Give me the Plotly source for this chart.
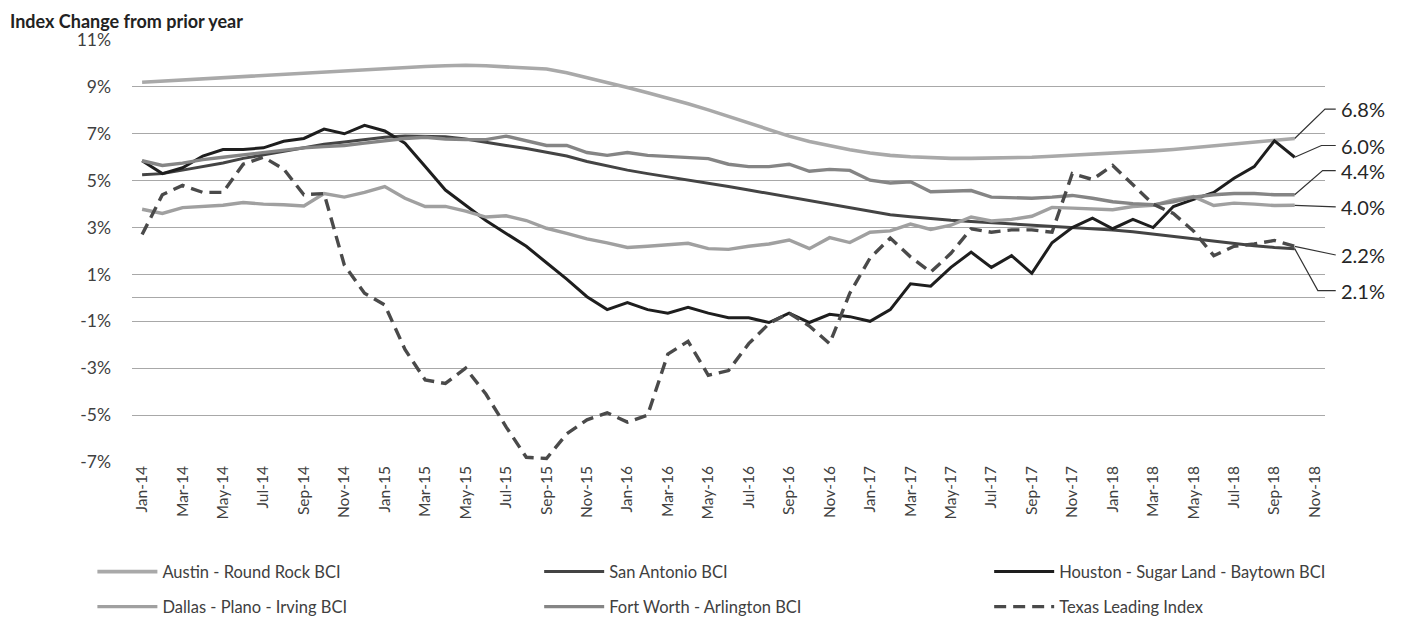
import plotly.graph_objects as go

# ---------------- data ----------------
mon_abbr = ["Jan", "Feb", "Mar", "Apr", "May", "Jun", "Jul", "Aug", "Sep", "Oct", "Nov", "Dec"]
months = [f"{m}-{y}" for y in ["14", "15", "16", "17", "18"] for m in mon_abbr][:59]  # Jan-14 .. Nov-18

austin = [9.2, 9.25, 9.3, 9.35, 9.4, 9.43, 9.47, 9.52, 9.57, 9.62,
          9.68, 9.73, 9.78, 9.83, 9.87, 9.9, 9.92, 9.9, 9.86, 9.82,
          9.76, 9.6, 9.4, 9.18, 8.97, 8.75, 8.52, 8.28, 8.02, 7.73,
          7.44, 7.17, 6.9, 6.67, 6.48, 6.32, 6.18, 6.08, 6.02, 5.98,
          5.95, 5.95, 5.96, 5.97, 6.0, 6.04, 6.08, 6.12, 6.17, 6.22,
          6.27, 6.33, 6.41, 6.48, 6.56, 6.65, 6.72, 6.8]

san_antonio = [5.25, 5.3, 5.45, 5.6, 5.75, 5.95, 6.1, 6.25, 6.4, 6.55,
               6.65, 6.75, 6.85, 6.9, 6.9, 6.87, 6.78, 6.63, 6.5, 6.37,
               6.22, 6.05, 5.82, 5.62, 5.45, 5.3, 5.17, 5.03, 4.9, 4.75,
               4.6, 4.45, 4.3, 4.14, 3.97, 3.82, 3.67, 3.55, 3.46, 3.37,
               3.31, 3.26, 3.21, 3.15, 3.1, 3.05, 3.0, 2.95, 2.9, 2.82,
               2.72, 2.6, 2.5, 2.4, 2.3, 2.22, 2.15, 2.1]

houston = [5.85, 5.3, 5.55, 6.05, 6.33, 6.33, 6.4, 6.68, 6.8, 7.2, 7.0, 7.36,
           7.12, 6.6, 5.6, 4.6, 3.95, 3.3, 2.75, 2.2, 1.5, 0.8, 0.05, -0.5,
           -0.2, -0.5, -0.65, -0.4, -0.65, -0.85, -0.85, -1.05, -0.65, -1.05, -0.7, -0.8,
           -1.0, -0.5, 0.6, 0.5, 1.3, 1.95, 1.3, 1.8, 1.05, 2.35, 3.0, 3.4,
           2.95, 3.35, 3.0, 3.9, 4.2, 4.5, 5.1, 5.6, 6.7, 6.0]

dallas = [3.78, 3.6, 3.85, 3.9, 3.95, 4.07, 4.0, 3.97, 3.92, 4.45,
          4.3, 4.5, 4.75, 4.25, 3.9, 3.9, 3.7, 3.45, 3.5, 3.3,
          2.97, 2.75, 2.52, 2.35, 2.15, 2.2, 2.25, 2.33, 2.1, 2.07,
          2.2, 2.3, 2.47, 2.1, 2.57, 2.36, 2.8, 2.86, 3.15, 2.92,
          3.1, 3.45, 3.28, 3.35, 3.48, 3.86, 3.83, 3.8, 3.76, 3.9,
          3.95, 4.18, 4.32, 3.94, 4.04, 4.0, 3.94, 3.95]

fort_worth = [5.85, 5.65, 5.75, 5.9, 6.0, 6.1, 6.2, 6.3, 6.4, 6.45,
              6.5, 6.6, 6.7, 6.8, 6.85, 6.78, 6.75, 6.75, 6.9, 6.7,
              6.5, 6.5, 6.2, 6.08, 6.2, 6.08, 6.03, 6.0, 5.94, 5.7,
              5.6, 5.6, 5.7, 5.4, 5.48, 5.44, 5.02, 4.9, 4.95, 4.53,
              4.55, 4.58, 4.3, 4.27, 4.25, 4.3, 4.37, 4.25, 4.1, 4.02,
              3.97, 4.1, 4.3, 4.4, 4.45, 4.45, 4.4, 4.4]

texas_leading = [2.7, 4.4, 4.8, 4.5, 4.5, 5.7, 6.0, 5.5, 4.4, 4.45, 1.4, 0.2,
                 -0.3, -2.2, -3.5, -3.65, -3.0, -4.1, -5.5, -6.8, -6.85, -5.8, -5.2, -4.9,
                 -5.3, -5.0, -2.4, -1.85, -3.3, -3.1, -1.95, -1.1, -0.65, -1.2, -1.95, 0.2,
                 1.7, 2.55, 1.75, 1.1, 1.9, 2.95, 2.8, 2.9, 2.9, 2.8, 5.3, 5.05,
                 5.65, 4.8, 4.0, 3.6, 2.85, 1.8, 2.2, 2.3, 2.45, 2.2]

y_ticks = [-7, -5, -3, -1, 1, 3, 5, 7, 9, 11]
end_labels = ["6.8%", "6.0%", "4.4%", "4.0%", "2.2%", "2.1%"]

# ---------------- styling ----------------
FONT = "Lato"
TXT = "#404040"
GRID = "#a8a8a8"
Y_MIN, Y_MAX = -7, 11

# name, values, colour, width, dash, legend id, legend x, legend y
series = [
    ("Austin - Round Rock BCI", austin, "#a9a9a9", 3.6, "solid", "legend", -0.0332, -0.2604),
    ("San Antonio BCI", san_antonio, "#444444", 3.0, "solid", "legend2", 0.3413, -0.2604),
    ("Houston - Sugar Land - Baytown BCI", houston, "#1e1e1e", 3.0, "solid", "legend3", 0.7185, -0.2604),
    ("Dallas - Plano - Irving BCI", dallas, "#a0a0a0", 3.4, "solid", "legend4", -0.0332, -0.3434),
    ("Fort Worth - Arlington BCI", fort_worth, "#858585", 3.4, "solid", "legend5", 0.3413, -0.3434),
    ("Texas Leading Index", texas_leading, "#4a4a4a", 3.4, "12px,7px", "legend6", 0.7185, -0.3434),
]

fig = go.Figure()
legend_layout = {}
for name, vals, color, width, dash, leg, lx, ly in series:
    fig.add_trace(go.Scatter(
        x=months[:len(vals)], y=vals, name=name, mode="lines",
        line=dict(color=color, width=width, dash=dash),
        legend=leg, showlegend=True,
    ))
    legend_layout[leg] = dict(orientation="h", x=lx, y=ly, xanchor="left", yanchor="middle",
                              itemwidth=60, bgcolor="rgba(0,0,0,0)",
                              font=dict(family=FONT, size=16.5, color=TXT))

# right-side value labels with leader lines
n_cat = len(months)
x_end_paper = (len(austin) - 1 + 0.5) / n_cat
label_series = [austin, houston, fort_worth, dallas, texas_leading, san_antonio]
label_y = [8.05, 6.5, 5.43, 3.88, 1.83, 0.31]     # label placement (in axis units)
elbow_x = [1.0, 0.997, 0.998, None, None, 0.994]
LEAD_END = 1.009


def yp(v):
    return (v - Y_MIN) / (Y_MAX - Y_MIN)


for txt, vals, ly, ex in zip(end_labels, label_series, label_y, elbow_x):
    y0 = yp(vals[-1])
    y1 = yp(ly)
    if ex is None:
        path = f"M {x_end_paper},{y0} L {LEAD_END},{y1}"
    else:
        path = f"M {x_end_paper},{y0} L {ex},{y1} L {LEAD_END},{y1}"
    fig.add_shape(type="path", path=path, xref="paper", yref="paper",
                  line=dict(color="#333333", width=1.2))
    fig.add_annotation(text=txt, x=1.0115, y=ly, xref="paper", yref="y",
                       xanchor="left", yanchor="middle", showarrow=False,
                       font=dict(family=FONT, size=20, color="#262626"))

fig.add_annotation(text="<b>Index Change from prior year</b>", x=-0.104, y=1.0758,
                   xref="paper", yref="paper", xanchor="left", yanchor="top",
                   showarrow=False, font=dict(family=FONT, size=18, color="#222222"))

fig.update_layout(
    width=1413, height=622,
    showlegend=True,
    margin=dict(l=124, r=96, t=32, b=168, autoexpand=False),
    plot_bgcolor="white", paper_bgcolor="white",
    font=dict(family=FONT, color=TXT),
    xaxis=dict(type="category", categoryorder="array", categoryarray=months,
               range=[-0.5, n_cat - 0.5], tickvals=months[::2], ticktext=months[::2],
               tickangle=-90, showgrid=False, showline=False, ticks="",
               tickfont=dict(family=FONT, size=15.5, color=TXT)),
    yaxis=dict(range=[Y_MIN, Y_MAX], tickvals=y_ticks, ticktext=[f"{v}%" for v in y_ticks],
               showgrid=True, gridcolor=GRID, gridwidth=1.3,
               zeroline=True, zerolinecolor=GRID, zerolinewidth=1.3,
               showline=False, ticks="", ticklabelstandoff=20,
               tickfont=dict(family=FONT, size=17.5, color=TXT)),
    **legend_layout,
)

fig.write_html("out.html")
